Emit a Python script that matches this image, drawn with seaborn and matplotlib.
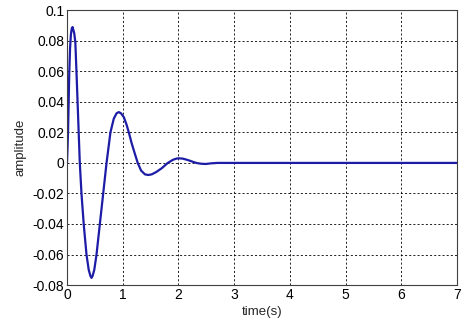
import matplotlib
matplotlib.use("Agg")
import matplotlib.pyplot as plt
import seaborn as sns
import pandas as pd

# values
time_s = [0, 0.01, 0.02, 0.03, 0.04, 0.055, 0.07, 0.085, 0.10, 0.115, 0.13, 0.15,
          0.17, 0.19, 0.21, 0.23, 0.26, 0.30, 0.35, 0.39, 0.42, 0.44, 0.46, 0.49,
          0.53, 0.59, 0.65, 0.71, 0.78, 0.84, 0.89, 0.93, 0.97, 1.02, 1.07, 1.11,
          1.16, 1.21, 1.27, 1.33, 1.40, 1.46, 1.52, 1.60, 1.70, 1.81, 1.90, 1.97,
          2.02, 2.08, 2.16, 2.24, 2.32, 2.40, 2.49, 2.58, 2.70, 3.0, 4.0, 5.0, 6.0, 7.0]
amplitude = [0, 0.010, 0.022, 0.040, 0.058, 0.075, 0.084, 0.088, 0.089, 0.087, 0.085, 0.079,
             0.060, 0.040, 0.020, 0.000, -0.020, -0.040, -0.060, -0.070, -0.074, -0.0753, -0.074, -0.070,
             -0.060, -0.040, -0.020, 0.000, 0.020, 0.029, 0.0325, 0.0333, 0.0325, 0.030, 0.025, 0.020,
             0.013, 0.007, 0.000, -0.005, -0.0075, -0.0079, -0.0075, -0.006, -0.0035, 0.000, 0.002, 0.0029,
             0.003, 0.0028, 0.002, 0.001, 0.000, -0.0005, -0.0007, -0.0003, 0.0, 0.0, 0.0, 0.0, 0.0, 0.0]

x_ticks = [0, 1, 2, 3, 4, 5, 6, 7]
y_ticks = [-0.08, -0.06, -0.04, -0.02, 0, 0.02, 0.04, 0.06, 0.08, 0.1]
y_tick_labels = ['-0.08', '-0.06', '-0.04', '-0.02', '0', '0.02', '0.04', '0.06', '0.08', '0.1']

df = pd.DataFrame({'time': time_s, 'amplitude': amplitude})

sns.set_style("white")
plt.rcParams['font.family'] = ['Liberation Sans', 'DejaVu Sans']

fig = plt.figure(figsize=(4.62, 3.21), dpi=100)
ax = fig.add_axes([0.145, 0.112, 0.844, 0.856])

sns.lineplot(data=df, x='time', y='amplitude', color='#1c1ca6', linewidth=1.6, ax=ax)

ax.set_xlim(0, 7)
ax.set_ylim(-0.08, 0.1)
ax.set_xticks(x_ticks)
ax.set_yticks(y_ticks)
ax.set_yticklabels(y_tick_labels)
ax.grid(True, color='black', linestyle=(0, (2.5, 2.5)), linewidth=0.6)
ax.tick_params(direction='in', length=3, labelsize=10, colors='black', pad=2)
for s in ax.spines.values():
    s.set_color('#404040')
    s.set_linewidth(0.8)

ax.set_xlabel('time(s)', fontsize=9.5, labelpad=3)
ax.set_ylabel('amplitude', fontsize=9.5, labelpad=4)

fig.savefig('out.png', dpi=100)
